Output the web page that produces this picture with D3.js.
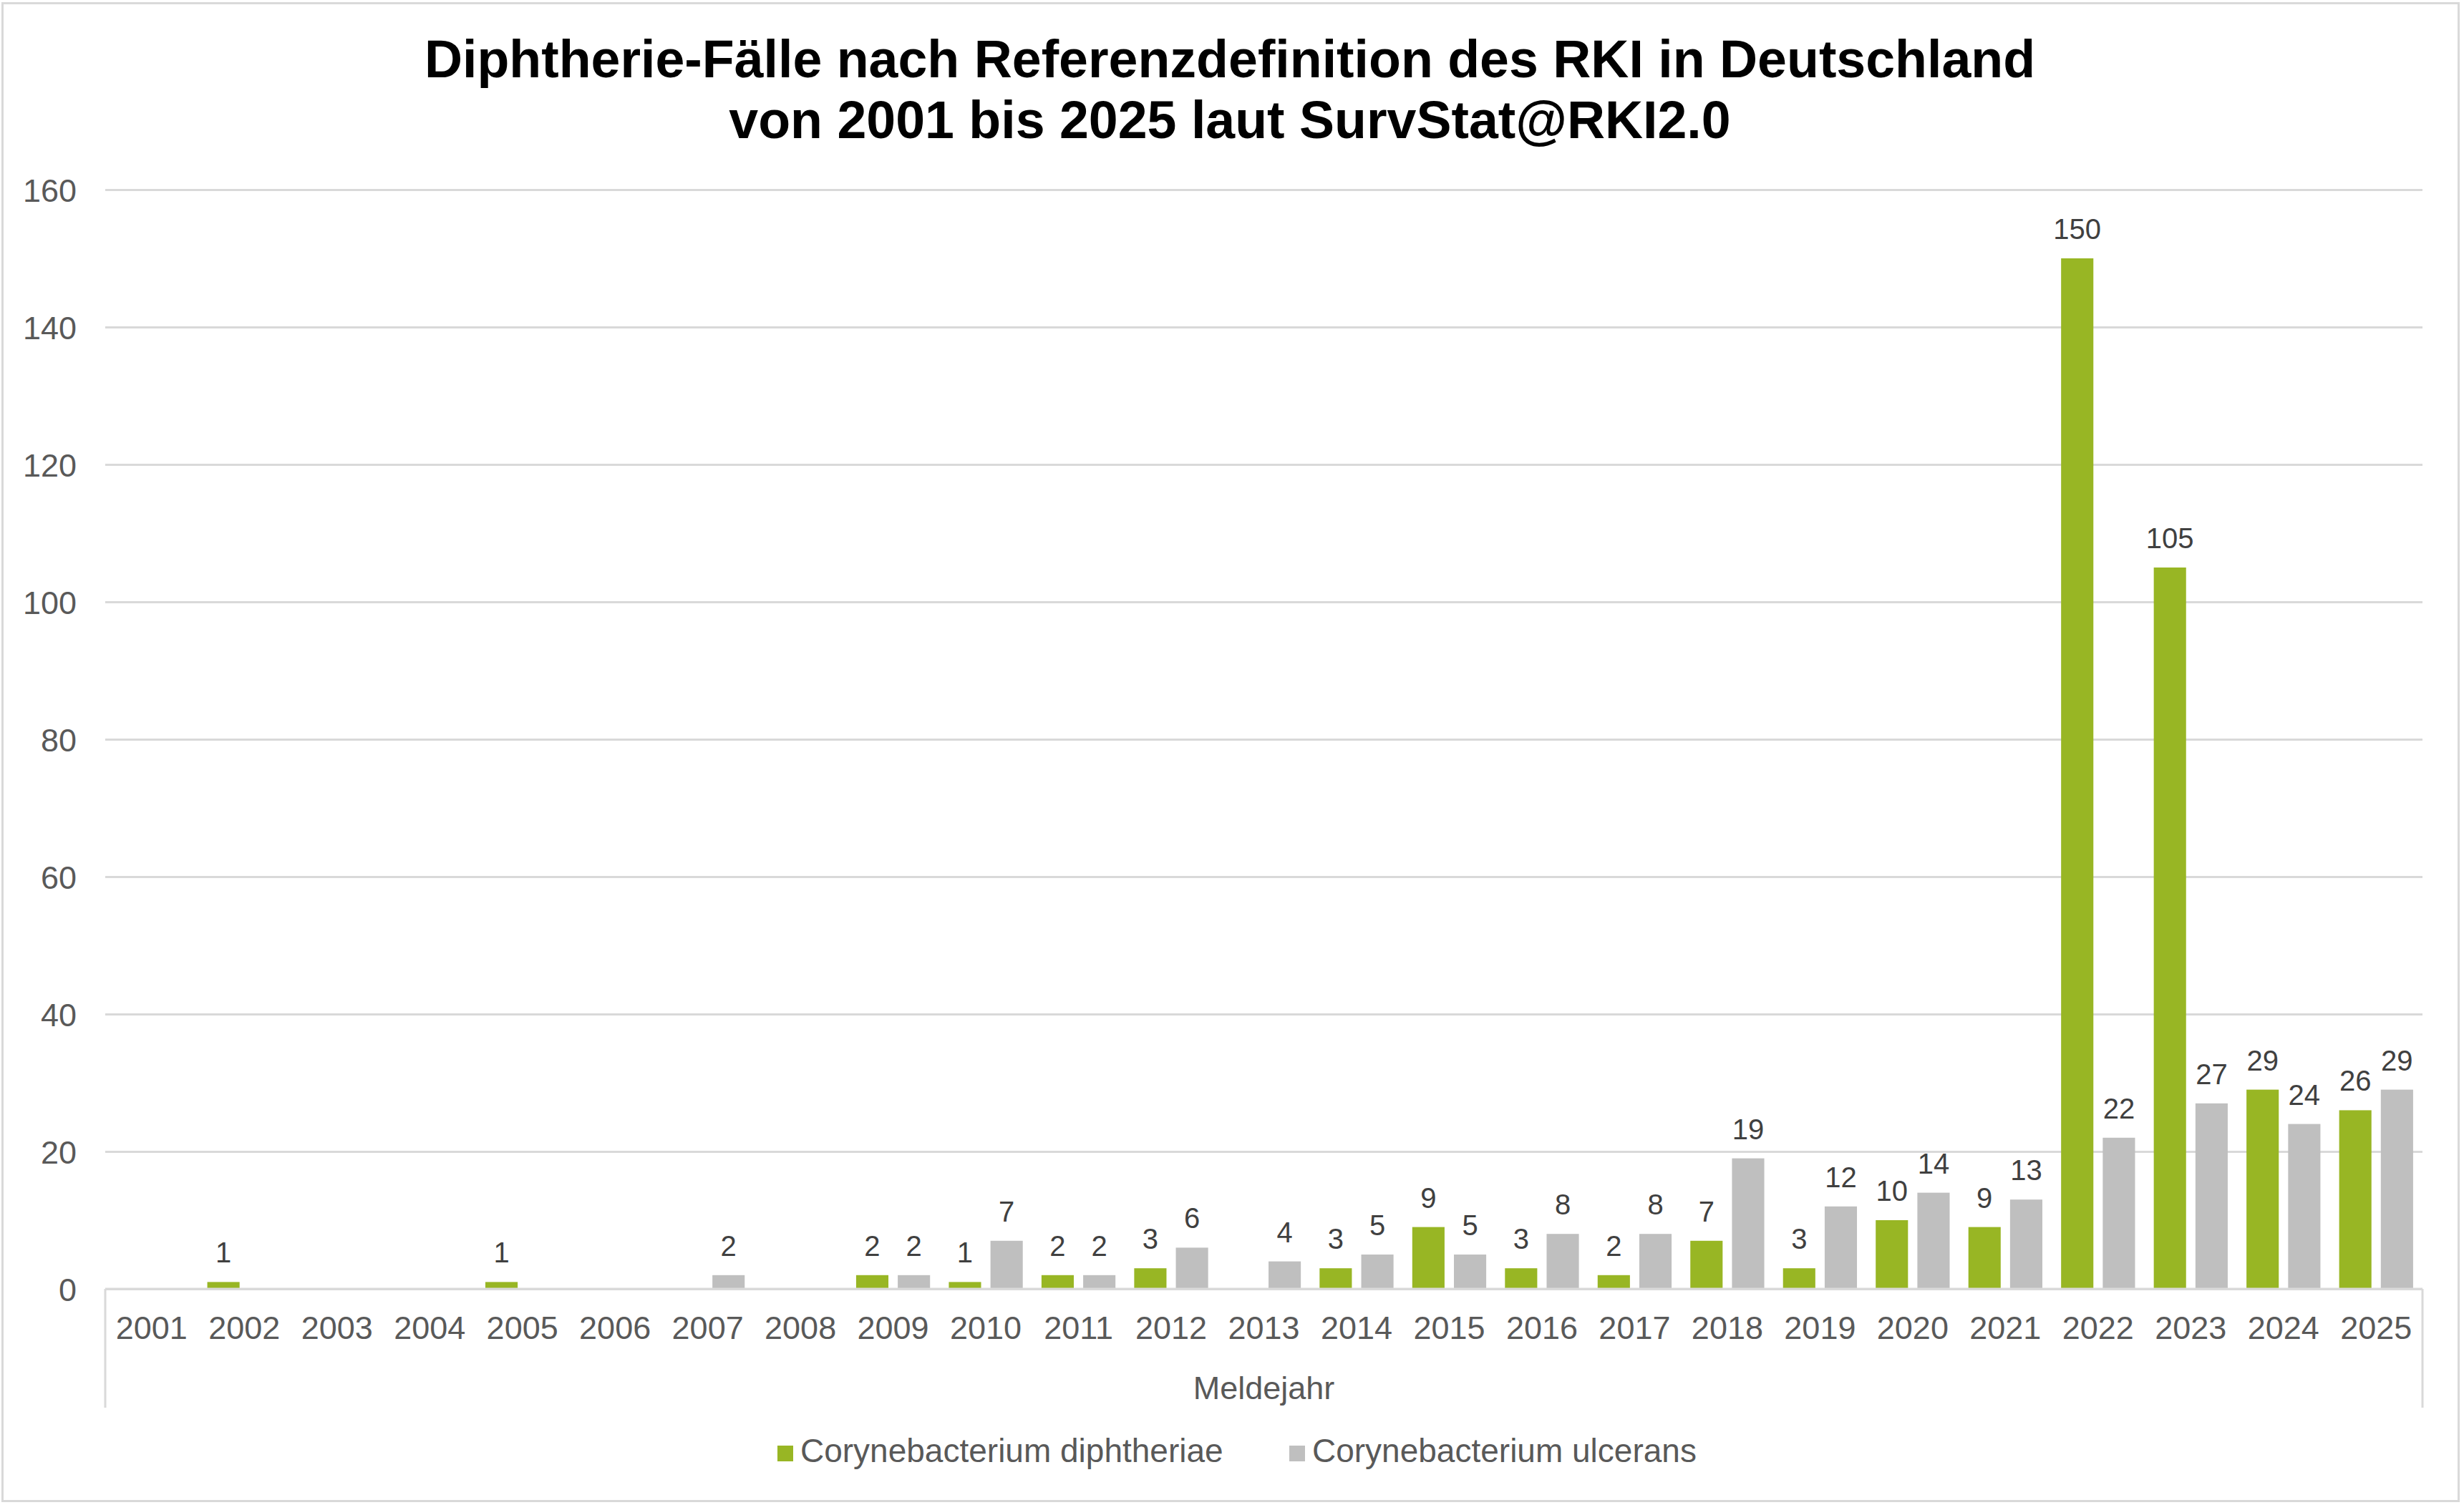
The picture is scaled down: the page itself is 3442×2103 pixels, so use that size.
<!DOCTYPE html>
<html>
<head>
<meta charset="utf-8">
<script src="https://cdn.jsdelivr.net/npm/d3@7"></script>
<style>
  html, body { margin: 0; padding: 0; background: #ffffff; }
  svg { display: block; font-family: "Liberation Sans", Arial, Helvetica, sans-serif; }
</style>
</head>
<body>
<svg id="chart" width="3442" height="2103"></svg>
<script>
// ---- Data ----
const years = ["2001","2002","2003","2004","2005","2006","2007","2008","2009","2010","2011","2012","2013","2014","2015","2016","2017","2018","2019","2020","2021","2022","2023","2024","2025"];
const diphtheriae = [0,1,0,0,1,0,0,0,2,1,2,3,0,3,9,3,2,7,3,10,9,150,105,29,26];
const ulcerans    = [0,0,0,0,0,0,2,0,2,7,2,6,4,5,5,8,8,19,12,14,13,22,27,24,29];
const seriesNames = ["Corynebacterium diphtheriae", "Corynebacterium ulcerans"];
const seriesColors = ["#98B624", "#BFBFBF"];
const yTicks = [0,20,40,60,80,100,120,140,160];
const titleLines = ["Diphtherie-Fälle nach Referenzdefinition des RKI in Deutschland", "von 2001 bis 2025 laut SurvStat@RKI2.0"];
const axisTitle = "Meldejahr";

// ---- Layout ----
const W = 3442, H = 2103;
const plot = { left: 147, right: 3384, top: 265, bottom: 1801 };
const svg = d3.select("#chart");

// outer border
svg.append("rect")
  .attr("x", 3.5).attr("y", 4.5).attr("width", 3431).attr("height", 2093)
  .attr("fill", "#ffffff").attr("stroke", "#D9D9D9").attr("stroke-width", 3);

// title
svg.append("text")
  .attr("x", 1718).attr("y", 108)
  .attr("text-anchor", "middle")
  .attr("font-size", 73.5).attr("font-weight", "bold").attr("fill", "#000000")
  .selectAll("tspan").data(titleLines).join("tspan")
  .attr("x", 1718).attr("dy", (d, i) => i === 0 ? 0 : 85)
  .text(d => d);

// scales
const y = d3.scaleLinear().domain([0, 160]).range([plot.bottom, plot.top]);
const x0 = d3.scaleBand().domain(years).range([plot.left, plot.right]).padding(0);
const x1 = d3.scaleBand().domain([0, 1]).range([0, x0.bandwidth()]).padding(0.225);

// y axis with gridlines
const yAxis = svg.append("g")
  .attr("transform", `translate(${plot.left},0)`)
  .call(d3.axisLeft(y).tickValues(yTicks).tickSize(-(plot.right - plot.left)).tickPadding(40));
yAxis.select(".domain").remove();
yAxis.selectAll(".tick line").attr("stroke", "#D9D9D9").attr("stroke-width", 3);
yAxis.selectAll(".tick text")
  .attr("font-size", 45).attr("fill", "#595959")
  .attr("font-family", "'Liberation Sans', Arial, sans-serif")
  .attr("x", 107 - plot.left).attr("dy", 16).attr("text-anchor", "end");

// bars
const rows = years.map((yr, i) => ({ year: yr, vals: [diphtheriae[i], ulcerans[i]] }));
const groups = svg.append("g").selectAll("g").data(rows).join("g")
  .attr("transform", d => `translate(${x0(d.year)},0)`);

groups.selectAll("rect")
  .data(d => d.vals.map((v, s) => ({ v, s })))
  .join("rect")
  .attr("x", d => x1(d.s))
  .attr("width", x1.bandwidth())
  .attr("y", d => y(d.v))
  .attr("height", d => y(0) - y(d.v))
  .attr("fill", d => seriesColors[d.s]);

// data labels
groups.selectAll("text.lbl")
  .data(d => d.vals.map((v, s) => ({ v, s })).filter(e => e.v > 0))
  .join("text")
  .attr("class", "lbl")
  .attr("x", d => x1(d.s) + x1.bandwidth() / 2)
  .attr("y", d => y(d.v) - 27)
  .attr("text-anchor", "middle")
  .attr("font-size", 40).attr("fill", "#404040")
  .text(d => d.v);

// x axis line + bracket lines
svg.append("line")
  .attr("x1", plot.left).attr("x2", plot.right)
  .attr("y1", plot.bottom).attr("y2", plot.bottom)
  .attr("stroke", "#D9D9D9").attr("stroke-width", 3);
[plot.left, plot.right].forEach(xx => {
  svg.append("line")
    .attr("x1", xx).attr("x2", xx)
    .attr("y1", plot.bottom).attr("y2", 1967)
    .attr("stroke", "#D9D9D9").attr("stroke-width", 3);
});

// x axis labels
const xAxis = svg.append("g")
  .attr("transform", `translate(0,${plot.bottom})`)
  .call(d3.axisBottom(x0).tickSize(0).tickPadding(0));
xAxis.select(".domain").remove();
xAxis.selectAll(".tick text")
  .attr("font-size", 45).attr("fill", "#595959")
  .attr("font-family", "'Liberation Sans', Arial, sans-serif")
  .attr("y", 70).attr("dy", 0);

// axis title
svg.append("text")
  .attr("x", (plot.left + plot.right) / 2).attr("y", 1955)
  .attr("text-anchor", "middle")
  .attr("font-size", 45).attr("fill", "#595959")
  .text(axisTitle);

// legend
const legendItems = [
  { name: seriesNames[0], color: seriesColors[0], sx: 1086 },
  { name: seriesNames[1], color: seriesColors[1], sx: 1801 }
];
const lg = svg.append("g").selectAll("g").data(legendItems).join("g");
lg.append("rect")
  .attr("x", d => d.sx).attr("y", 2020).attr("width", 22).attr("height", 22)
  .attr("fill", d => d.color);
lg.append("text")
  .attr("x", d => d.sx + 32).attr("y", 2043)
  .attr("font-size", 46).attr("fill", "#595959")
  .text(d => d.name);
</script>
</body>
</html>
